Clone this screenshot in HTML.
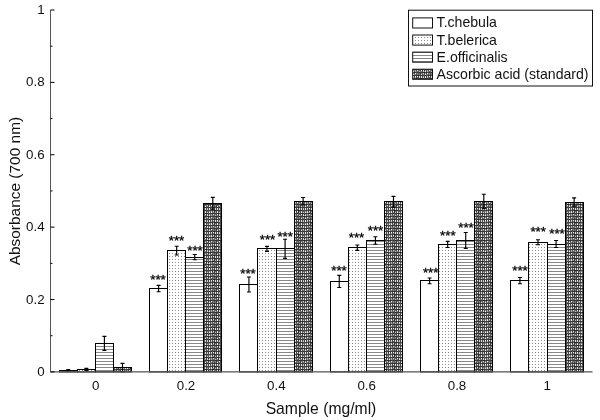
<!DOCTYPE html>
<html lang="en"><head><meta charset="utf-8"><title>Reducing power chart</title>
<style>
html,body{margin:0;padding:0;background:#fff;}
body{width:600px;height:420px;overflow:hidden;}
svg{display:block;font-family:"Liberation Sans",sans-serif;}
.tk{font-size:13.33px;fill:#111;}
.lb{font-size:15.7px;fill:#111;}
.lby{font-size:15.45px;fill:#111;}
.lg{font-size:14.1px;fill:#111;}
.st{font-size:13.33px;fill:#000;stroke:#000;stroke-width:0.3px;}
</style></head><body>
<svg width="600" height="420" viewBox="0 0 600 420">
<defs>
<pattern id="pd" width="3" height="3" patternUnits="userSpaceOnUse"><rect width="3" height="3" fill="#fff"/><rect x="1" y="1" width="1" height="1" fill="#8c8c8c"/></pattern>
<pattern id="ph" width="3" height="3" patternUnits="userSpaceOnUse"><rect width="3" height="3" fill="#fff"/><rect x="0" y="1" width="3" height="1" fill="#888"/></pattern>
<pattern id="pk" width="12" height="12" patternUnits="userSpaceOnUse"><rect x="0" y="0" width="1" height="1" fill="#383838"/><rect x="1" y="0" width="1" height="1" fill="#303030"/><rect x="2" y="0" width="1" height="1" fill="#404040"/><rect x="3" y="0" width="1" height="1" fill="#282828"/><rect x="4" y="0" width="1" height="1" fill="#282828"/><rect x="5" y="0" width="1" height="1" fill="#484848"/><rect x="6" y="0" width="1" height="1" fill="#282828"/><rect x="7" y="0" width="1" height="1" fill="#383838"/><rect x="8" y="0" width="1" height="1" fill="#484848"/><rect x="9" y="0" width="1" height="1" fill="#282828"/><rect x="10" y="0" width="1" height="1" fill="#484848"/><rect x="11" y="0" width="1" height="1" fill="#303030"/><rect x="0" y="1" width="1" height="1" fill="#383838"/><rect x="1" y="1" width="1" height="1" fill="#888888"/><rect x="2" y="1" width="1" height="1" fill="#686868"/><rect x="3" y="1" width="1" height="1" fill="#d8d8d8"/><rect x="4" y="1" width="1" height="1" fill="#383838"/><rect x="5" y="1" width="1" height="1" fill="#a8a8a8"/><rect x="6" y="1" width="1" height="1" fill="#383838"/><rect x="7" y="1" width="1" height="1" fill="#f0f0f0"/><rect x="8" y="1" width="1" height="1" fill="#686868"/><rect x="9" y="1" width="1" height="1" fill="#888888"/><rect x="10" y="1" width="1" height="1" fill="#505050"/><rect x="11" y="1" width="1" height="1" fill="#888888"/><rect x="0" y="2" width="1" height="1" fill="#484848"/><rect x="1" y="2" width="1" height="1" fill="#e0e0e0"/><rect x="2" y="2" width="1" height="1" fill="#505050"/><rect x="3" y="2" width="1" height="1" fill="#888888"/><rect x="4" y="2" width="1" height="1" fill="#505050"/><rect x="5" y="2" width="1" height="1" fill="#f0f0f0"/><rect x="6" y="2" width="1" height="1" fill="#686868"/><rect x="7" y="2" width="1" height="1" fill="#888888"/><rect x="8" y="2" width="1" height="1" fill="#484848"/><rect x="9" y="2" width="1" height="1" fill="#888888"/><rect x="10" y="2" width="1" height="1" fill="#505050"/><rect x="11" y="2" width="1" height="1" fill="#707070"/><rect x="0" y="3" width="1" height="1" fill="#303030"/><rect x="1" y="3" width="1" height="1" fill="#383838"/><rect x="2" y="3" width="1" height="1" fill="#404040"/><rect x="3" y="3" width="1" height="1" fill="#303030"/><rect x="4" y="3" width="1" height="1" fill="#484848"/><rect x="5" y="3" width="1" height="1" fill="#282828"/><rect x="6" y="3" width="1" height="1" fill="#484848"/><rect x="7" y="3" width="1" height="1" fill="#383838"/><rect x="8" y="3" width="1" height="1" fill="#484848"/><rect x="9" y="3" width="1" height="1" fill="#303030"/><rect x="10" y="3" width="1" height="1" fill="#282828"/><rect x="11" y="3" width="1" height="1" fill="#484848"/><rect x="0" y="4" width="1" height="1" fill="#505050"/><rect x="1" y="4" width="1" height="1" fill="#e0e0e0"/><rect x="2" y="4" width="1" height="1" fill="#484848"/><rect x="3" y="4" width="1" height="1" fill="#c0c0c0"/><rect x="4" y="4" width="1" height="1" fill="#383838"/><rect x="5" y="4" width="1" height="1" fill="#f0f0f0"/><rect x="6" y="4" width="1" height="1" fill="#383838"/><rect x="7" y="4" width="1" height="1" fill="#f0f0f0"/><rect x="8" y="4" width="1" height="1" fill="#383838"/><rect x="9" y="4" width="1" height="1" fill="#f0f0f0"/><rect x="10" y="4" width="1" height="1" fill="#484848"/><rect x="11" y="4" width="1" height="1" fill="#d8d8d8"/><rect x="0" y="5" width="1" height="1" fill="#505050"/><rect x="1" y="5" width="1" height="1" fill="#d8d8d8"/><rect x="2" y="5" width="1" height="1" fill="#585858"/><rect x="3" y="5" width="1" height="1" fill="#d8d8d8"/><rect x="4" y="5" width="1" height="1" fill="#505050"/><rect x="5" y="5" width="1" height="1" fill="#d8d8d8"/><rect x="6" y="5" width="1" height="1" fill="#585858"/><rect x="7" y="5" width="1" height="1" fill="#c0c0c0"/><rect x="8" y="5" width="1" height="1" fill="#484848"/><rect x="9" y="5" width="1" height="1" fill="#707070"/><rect x="10" y="5" width="1" height="1" fill="#484848"/><rect x="11" y="5" width="1" height="1" fill="#e0e0e0"/><rect x="0" y="6" width="1" height="1" fill="#303030"/><rect x="1" y="6" width="1" height="1" fill="#282828"/><rect x="2" y="6" width="1" height="1" fill="#484848"/><rect x="3" y="6" width="1" height="1" fill="#383838"/><rect x="4" y="6" width="1" height="1" fill="#484848"/><rect x="5" y="6" width="1" height="1" fill="#404040"/><rect x="6" y="6" width="1" height="1" fill="#383838"/><rect x="7" y="6" width="1" height="1" fill="#404040"/><rect x="8" y="6" width="1" height="1" fill="#383838"/><rect x="9" y="6" width="1" height="1" fill="#484848"/><rect x="10" y="6" width="1" height="1" fill="#282828"/><rect x="11" y="6" width="1" height="1" fill="#282828"/><rect x="0" y="7" width="1" height="1" fill="#505050"/><rect x="1" y="7" width="1" height="1" fill="#d8d8d8"/><rect x="2" y="7" width="1" height="1" fill="#484848"/><rect x="3" y="7" width="1" height="1" fill="#707070"/><rect x="4" y="7" width="1" height="1" fill="#585858"/><rect x="5" y="7" width="1" height="1" fill="#a8a8a8"/><rect x="6" y="7" width="1" height="1" fill="#686868"/><rect x="7" y="7" width="1" height="1" fill="#d8d8d8"/><rect x="8" y="7" width="1" height="1" fill="#383838"/><rect x="9" y="7" width="1" height="1" fill="#e0e0e0"/><rect x="10" y="7" width="1" height="1" fill="#383838"/><rect x="11" y="7" width="1" height="1" fill="#707070"/><rect x="0" y="8" width="1" height="1" fill="#505050"/><rect x="1" y="8" width="1" height="1" fill="#f0f0f0"/><rect x="2" y="8" width="1" height="1" fill="#585858"/><rect x="3" y="8" width="1" height="1" fill="#c0c0c0"/><rect x="4" y="8" width="1" height="1" fill="#585858"/><rect x="5" y="8" width="1" height="1" fill="#f0f0f0"/><rect x="6" y="8" width="1" height="1" fill="#686868"/><rect x="7" y="8" width="1" height="1" fill="#f0f0f0"/><rect x="8" y="8" width="1" height="1" fill="#686868"/><rect x="9" y="8" width="1" height="1" fill="#888888"/><rect x="10" y="8" width="1" height="1" fill="#383838"/><rect x="11" y="8" width="1" height="1" fill="#c0c0c0"/><rect x="0" y="9" width="1" height="1" fill="#404040"/><rect x="1" y="9" width="1" height="1" fill="#282828"/><rect x="2" y="9" width="1" height="1" fill="#282828"/><rect x="3" y="9" width="1" height="1" fill="#383838"/><rect x="4" y="9" width="1" height="1" fill="#484848"/><rect x="5" y="9" width="1" height="1" fill="#404040"/><rect x="6" y="9" width="1" height="1" fill="#383838"/><rect x="7" y="9" width="1" height="1" fill="#404040"/><rect x="8" y="9" width="1" height="1" fill="#383838"/><rect x="9" y="9" width="1" height="1" fill="#282828"/><rect x="10" y="9" width="1" height="1" fill="#404040"/><rect x="11" y="9" width="1" height="1" fill="#383838"/><rect x="0" y="10" width="1" height="1" fill="#484848"/><rect x="1" y="10" width="1" height="1" fill="#f0f0f0"/><rect x="2" y="10" width="1" height="1" fill="#383838"/><rect x="3" y="10" width="1" height="1" fill="#d8d8d8"/><rect x="4" y="10" width="1" height="1" fill="#383838"/><rect x="5" y="10" width="1" height="1" fill="#a8a8a8"/><rect x="6" y="10" width="1" height="1" fill="#585858"/><rect x="7" y="10" width="1" height="1" fill="#a8a8a8"/><rect x="8" y="10" width="1" height="1" fill="#484848"/><rect x="9" y="10" width="1" height="1" fill="#d8d8d8"/><rect x="10" y="10" width="1" height="1" fill="#686868"/><rect x="11" y="10" width="1" height="1" fill="#707070"/><rect x="0" y="11" width="1" height="1" fill="#686868"/><rect x="1" y="11" width="1" height="1" fill="#888888"/><rect x="2" y="11" width="1" height="1" fill="#484848"/><rect x="3" y="11" width="1" height="1" fill="#d8d8d8"/><rect x="4" y="11" width="1" height="1" fill="#686868"/><rect x="5" y="11" width="1" height="1" fill="#f0f0f0"/><rect x="6" y="11" width="1" height="1" fill="#585858"/><rect x="7" y="11" width="1" height="1" fill="#a8a8a8"/><rect x="8" y="11" width="1" height="1" fill="#686868"/><rect x="9" y="11" width="1" height="1" fill="#707070"/><rect x="10" y="11" width="1" height="1" fill="#505050"/><rect x="11" y="11" width="1" height="1" fill="#c0c0c0"/></pattern>
</defs>
<rect width="600" height="420" fill="#fff"/>

<rect x="59.50" y="370.50" width="18.00" height="1.40" fill="#fff" stroke="#000" stroke-width="1"/>
<rect x="77.50" y="369.50" width="18.00" height="2.40" fill="url(#pd)" stroke="#000" stroke-width="1"/>
<rect x="95.50" y="343.50" width="18.00" height="28.40" fill="url(#ph)" stroke="#000" stroke-width="1"/>
<rect x="113.50" y="367.50" width="18.00" height="4.40" fill="url(#pk)" stroke="#000" stroke-width="1"/>
<rect x="149.50" y="288.50" width="18.00" height="83.40" fill="#fff" stroke="#000" stroke-width="1"/>
<rect x="167.50" y="250.50" width="18.00" height="121.40" fill="url(#pd)" stroke="#000" stroke-width="1"/>
<rect x="185.50" y="257.50" width="18.00" height="114.40" fill="url(#ph)" stroke="#000" stroke-width="1"/>
<rect x="203.50" y="203.50" width="18.00" height="168.40" fill="url(#pk)" stroke="#000" stroke-width="1"/>
<rect x="239.50" y="284.50" width="18.00" height="87.40" fill="#fff" stroke="#000" stroke-width="1"/>
<rect x="257.50" y="248.50" width="19.00" height="123.40" fill="url(#pd)" stroke="#000" stroke-width="1"/>
<rect x="276.50" y="248.50" width="18.00" height="123.40" fill="url(#ph)" stroke="#000" stroke-width="1"/>
<rect x="294.50" y="201.50" width="18.00" height="170.40" fill="url(#pk)" stroke="#000" stroke-width="1"/>
<rect x="330.50" y="281.50" width="18.00" height="90.40" fill="#fff" stroke="#000" stroke-width="1"/>
<rect x="348.50" y="247.50" width="18.00" height="124.40" fill="url(#pd)" stroke="#000" stroke-width="1"/>
<rect x="366.50" y="240.50" width="18.00" height="131.40" fill="url(#ph)" stroke="#000" stroke-width="1"/>
<rect x="384.50" y="201.50" width="18.00" height="170.40" fill="url(#pk)" stroke="#000" stroke-width="1"/>
<rect x="420.50" y="280.50" width="18.00" height="91.40" fill="#fff" stroke="#000" stroke-width="1"/>
<rect x="438.50" y="244.50" width="18.00" height="127.40" fill="url(#pd)" stroke="#000" stroke-width="1"/>
<rect x="456.50" y="240.50" width="18.00" height="131.40" fill="url(#ph)" stroke="#000" stroke-width="1"/>
<rect x="474.50" y="201.50" width="18.00" height="170.40" fill="url(#pk)" stroke="#000" stroke-width="1"/>
<rect x="510.50" y="280.50" width="18.00" height="91.40" fill="#fff" stroke="#000" stroke-width="1"/>
<rect x="528.50" y="242.50" width="19.00" height="129.40" fill="url(#pd)" stroke="#000" stroke-width="1"/>
<rect x="547.50" y="244.50" width="18.00" height="127.40" fill="url(#ph)" stroke="#000" stroke-width="1"/>
<rect x="565.50" y="202.50" width="18.00" height="169.40" fill="url(#pk)" stroke="#000" stroke-width="1"/>
<path d="M68.27 369.60V371.00M66.27 369.60h4M66.27 371.00h4" stroke="#000" stroke-width="1.15" fill="none"/>
<path d="M86.33 368.30V370.30M84.33 368.30h4M84.33 370.30h4" stroke="#000" stroke-width="1.15" fill="none"/>
<path d="M104.40 336.30V350.30M102.40 336.30h4M102.40 350.30h4" stroke="#000" stroke-width="1.15" fill="none"/>
<path d="M122.47 363.30V371.70M120.47 363.30h4M120.47 371.70h4" stroke="#000" stroke-width="1.15" fill="none"/>
<path d="M158.60 285.30V291.70M156.60 285.30h4M156.60 291.70h4" stroke="#000" stroke-width="1.15" fill="none"/>
<path d="M176.67 246.20V255.00M174.67 246.20h4M174.67 255.00h4" stroke="#000" stroke-width="1.15" fill="none"/>
<path d="M194.73 254.50V259.70M192.73 254.50h4M192.73 259.70h4" stroke="#000" stroke-width="1.15" fill="none"/>
<path d="M212.80 197.30V209.10M210.80 197.30h4M210.80 209.10h4" stroke="#000" stroke-width="1.15" fill="none"/>
<path d="M248.93 277.00V292.00M246.93 277.00h4M246.93 292.00h4" stroke="#000" stroke-width="1.15" fill="none"/>
<path d="M267.00 246.30V251.30M265.00 246.30h4M265.00 251.30h4" stroke="#000" stroke-width="1.15" fill="none"/>
<path d="M285.07 239.20V258.30M283.07 239.20h4M283.07 258.30h4" stroke="#000" stroke-width="1.15" fill="none"/>
<path d="M303.13 197.50V205.00M301.13 197.50h4M301.13 205.00h4" stroke="#000" stroke-width="1.15" fill="none"/>
<path d="M339.27 275.30V287.50M337.27 275.30h4M337.27 287.50h4" stroke="#000" stroke-width="1.15" fill="none"/>
<path d="M357.33 245.00V250.30M355.33 245.00h4M355.33 250.30h4" stroke="#000" stroke-width="1.15" fill="none"/>
<path d="M375.40 236.70V244.20M373.40 236.70h4M373.40 244.20h4" stroke="#000" stroke-width="1.15" fill="none"/>
<path d="M393.47 196.30V207.20M391.47 196.30h4M391.47 207.20h4" stroke="#000" stroke-width="1.15" fill="none"/>
<path d="M429.60 278.00V283.70M427.60 278.00h4M427.60 283.70h4" stroke="#000" stroke-width="1.15" fill="none"/>
<path d="M447.67 241.30V247.50M445.67 241.30h4M445.67 247.50h4" stroke="#000" stroke-width="1.15" fill="none"/>
<path d="M465.73 232.50V248.30M463.73 232.50h4M463.73 248.30h4" stroke="#000" stroke-width="1.15" fill="none"/>
<path d="M483.80 194.20V208.30M481.80 194.20h4M481.80 208.30h4" stroke="#000" stroke-width="1.15" fill="none"/>
<path d="M519.93 277.50V283.70M517.93 277.50h4M517.93 283.70h4" stroke="#000" stroke-width="1.15" fill="none"/>
<path d="M538.00 239.70V244.70M536.00 239.70h4M536.00 244.70h4" stroke="#000" stroke-width="1.15" fill="none"/>
<path d="M556.07 240.50V247.50M554.07 240.50h4M554.07 247.50h4" stroke="#000" stroke-width="1.15" fill="none"/>
<path d="M574.13 197.80V206.20M572.13 197.80h4M572.13 206.20h4" stroke="#000" stroke-width="1.15" fill="none"/>
<path d="M50.5 10.0V371.9" stroke="#555" stroke-width="1" fill="none"/>
<path d="M50.0 371.9H592.5" stroke="#555" stroke-width="1.15" fill="none"/>
<path d="M50.5 371.90h4" stroke="#000" stroke-width="1" fill="none"/>
<path d="M50.5 335.71h2" stroke="#000" stroke-width="1" fill="none"/>
<path d="M50.5 299.52h4" stroke="#000" stroke-width="1" fill="none"/>
<path d="M50.5 263.33h2" stroke="#000" stroke-width="1" fill="none"/>
<path d="M50.5 227.14h4" stroke="#000" stroke-width="1" fill="none"/>
<path d="M50.5 190.95h2" stroke="#000" stroke-width="1" fill="none"/>
<path d="M50.5 154.76h4" stroke="#000" stroke-width="1" fill="none"/>
<path d="M50.5 118.57h2" stroke="#000" stroke-width="1" fill="none"/>
<path d="M50.5 82.38h4" stroke="#000" stroke-width="1" fill="none"/>
<path d="M50.5 46.19h2" stroke="#000" stroke-width="1" fill="none"/>
<path d="M50.5 10.00h4" stroke="#000" stroke-width="1" fill="none"/>
<text class="tk" x="44.6" y="376.00" text-anchor="end">0</text>
<text class="tk" x="44.6" y="303.62" text-anchor="end">0.2</text>
<text class="tk" x="44.6" y="231.24" text-anchor="end">0.4</text>
<text class="tk" x="44.6" y="158.86" text-anchor="end">0.6</text>
<text class="tk" x="44.6" y="86.48" text-anchor="end">0.8</text>
<text class="tk" x="44.6" y="14.10" text-anchor="end">1</text>
<text class="tk" x="95.67" y="389.8" text-anchor="middle">0</text>
<text class="tk" x="186.00" y="389.8" text-anchor="middle">0.2</text>
<text class="tk" x="276.33" y="389.8" text-anchor="middle">0.4</text>
<text class="tk" x="366.67" y="389.8" text-anchor="middle">0.6</text>
<text class="tk" x="457.00" y="389.8" text-anchor="middle">0.8</text>
<text class="tk" x="547.33" y="389.8" text-anchor="middle">1</text>
<text class="st" x="158.00" y="283.70" text-anchor="middle">***</text>
<text class="st" x="176.50" y="245.40" text-anchor="middle">***</text>
<text class="st" x="195.00" y="255.40" text-anchor="middle">***</text>
<text class="st" x="248.00" y="277.90" text-anchor="middle">***</text>
<text class="st" x="267.50" y="244.00" text-anchor="middle">***</text>
<text class="st" x="285.20" y="240.70" text-anchor="middle">***</text>
<text class="st" x="339.00" y="274.50" text-anchor="middle">***</text>
<text class="st" x="356.50" y="241.70" text-anchor="middle">***</text>
<text class="st" x="375.50" y="234.50" text-anchor="middle">***</text>
<text class="st" x="430.70" y="277.00" text-anchor="middle">***</text>
<text class="st" x="447.80" y="240.40" text-anchor="middle">***</text>
<text class="st" x="466.00" y="232.00" text-anchor="middle">***</text>
<text class="st" x="520.00" y="274.50" text-anchor="middle">***</text>
<text class="st" x="538.20" y="236.20" text-anchor="middle">***</text>
<text class="st" x="557.00" y="237.90" text-anchor="middle">***</text>
<text class="lb" x="321" y="414.0" text-anchor="middle">Sample (mg/ml)</text>
<text class="lby" transform="translate(20.1 191.1) rotate(-90)" text-anchor="middle">Absorbance (700 nm)</text>
<rect x="408.5" y="10.2" width="184" height="75.8" fill="#fff" stroke="#111" stroke-width="1"/>
<rect x="412.7" y="17.90" width="19.8" height="10.1" fill="#fff" stroke="#111" stroke-width="1"/>
<text class="lg" x="436.6" y="27.40">T.chebula</text>
<rect x="412.7" y="35.00" width="19.8" height="10.1" fill="url(#pd)" stroke="#111" stroke-width="1"/>
<text class="lg" x="436.6" y="44.50">T.belerica</text>
<rect x="412.7" y="52.10" width="19.8" height="10.1" fill="url(#ph)" stroke="#111" stroke-width="1"/>
<text class="lg" x="436.6" y="61.60">E.officinalis</text>
<rect x="412.7" y="69.20" width="19.8" height="10.1" fill="url(#pk)" stroke="#111" stroke-width="1"/>
<text class="lg" x="436.6" y="78.70">Ascorbic acid (standard)</text>
</svg></body></html>
